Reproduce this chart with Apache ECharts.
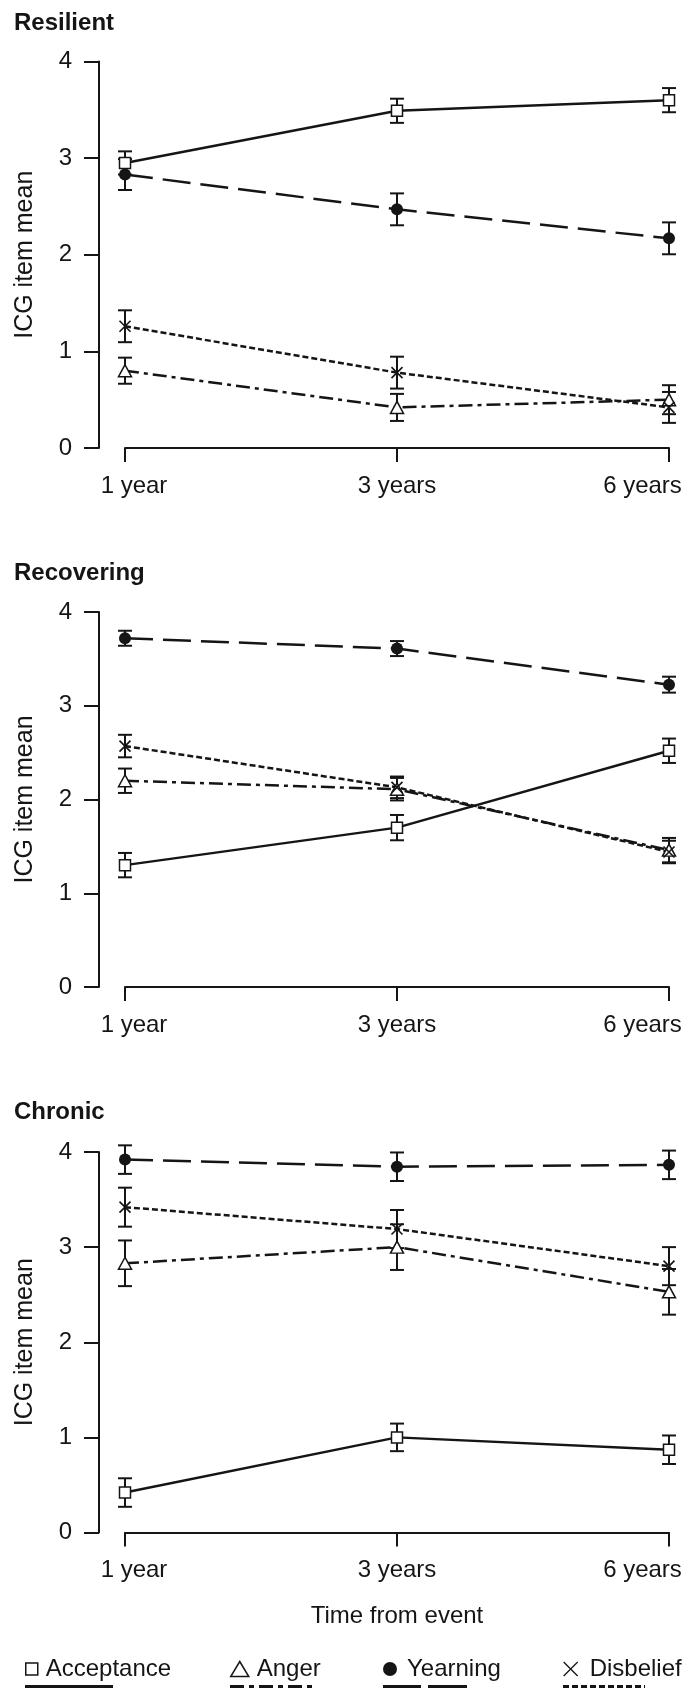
<!DOCTYPE html>
<html><head><meta charset="utf-8">
<script src="https://cdn.jsdelivr.net/npm/echarts@6/dist/echarts.min.js"></script>
<style>html,body{margin:0;padding:0;background:#fff}#chart{width:689px;height:1688px}</style>
</head><body><div id="chart"></div>
<script>
// ---------- data ----------
const categories = ['1 year', '3 years', '6 years'];
const panelTitles = ['Resilient', 'Recovering', 'Chronic'];
const itemNames = ['Acceptance', 'Anger', 'Yearning', 'Disbelief'];
const yAxisName = 'ICG item mean';
const xAxisName = 'Time from event';

// Resilient
const resilientAcceptance = [2.95, 3.49, 3.60];
const resilientAcceptanceSE = [0.12, 0.125, 0.125];
const resilientAnger = [0.80, 0.42, 0.50];
const resilientAngerSE = [0.135, 0.14, 0.15];
const resilientYearning = [2.83, 2.47, 2.17];
const resilientYearningSE = [0.16, 0.165, 0.165];
const resilientDisbelief = [1.26, 0.78, 0.42];
const resilientDisbeliefSE = [0.165, 0.165, 0.16];

// Recovering
const recoveringAcceptance = [1.30, 1.70, 2.52];
const recoveringAcceptanceSE = [0.13, 0.135, 0.13];
const recoveringAnger = [2.20, 2.11, 1.46];
const recoveringAngerSE = [0.13, 0.12, 0.13];
const recoveringYearning = [3.72, 3.61, 3.225];
const recoveringYearningSE = [0.08, 0.08, 0.085];
const recoveringDisbelief = [2.57, 2.13, 1.44];
const recoveringDisbeliefSE = [0.12, 0.115, 0.12];

// Chronic
const chronicAcceptance = [0.42, 1.00, 0.87];
const chronicAcceptanceSE = [0.15, 0.145, 0.15];
const chronicAnger = [2.83, 3.00, 2.53];
const chronicAngerSE = [0.24, 0.24, 0.24];
const chronicYearning = [3.92, 3.845, 3.865];
const chronicYearningSE = [0.15, 0.15, 0.15];
const chronicDisbelief = [3.42, 3.19, 2.80];
const chronicDisbeliefSE = [0.205, 0.2, 0.2];

const panelData = [
  [[resilientAcceptance, resilientAcceptanceSE], [resilientAnger, resilientAngerSE], [resilientYearning, resilientYearningSE], [resilientDisbelief, resilientDisbeliefSE]],
  [[recoveringAcceptance, recoveringAcceptanceSE], [recoveringAnger, recoveringAngerSE], [recoveringYearning, recoveringYearningSE], [recoveringDisbelief, recoveringDisbeliefSE]],
  [[chronicAcceptance, chronicAcceptanceSE], [chronicAnger, chronicAngerSE], [chronicYearning, chronicYearningSE], [chronicDisbelief, chronicDisbeliefSE]]
];

// ---------- styles / layout ----------
const INK = '#151515';
const FONT = "'Liberation Sans', Arial, Helvetica, sans-serif";
const gridBoxes = [
  {top: 61.5, bottom: 1240},
  {top: 612, bottom: 701},
  {top: 1152, bottom: 155.5}
];
const titleTops = [6, 556, 1095];
const X_PATH = 'path://M0,0L10,10M10,0L0,10';
const itemStyles = {
  Acceptance: {symbol: 'rect', size: 11, line: 'solid', item: {color: '#fff', borderColor: INK, borderWidth: 1.5}},
  Anger: {symbol: 'triangle', size: [13, 12], line: [14, 5, 4, 5], item: {color: '#fff', borderColor: INK, borderWidth: 1.5}},
  Yearning: {symbol: 'circle', size: 12, line: [28, 10], item: {color: INK, borderColor: INK, borderWidth: 0}},
  Disbelief: {symbol: X_PATH, size: 11, line: [6, 3], item: {color: 'transparent', borderColor: INK, borderWidth: 1.6}}
};
const legendLayout = {
  Acceptance: {left: 25, icon: 'rect', w: 12, h: 12, pad: 3, under: 'path://M0,0H88V3H0Z', uw: 88},
  Anger: {left: 230, icon: 'triangle', w: 18, h: 15, pad: 3,
    under: 'path://M0,0h14v3h-14z M19,0h5v3h-5z M29,0h14v3h-14z M48,0h5v3h-5z M58,0h14v3h-14z M77,0h5v3h-5z', uw: 82},
  Yearning: {left: 383, icon: 'circle', w: 14, h: 14, pad: 5, under: 'path://M0,0h38v3h-38z M45,0h39v3h-39z', uw: 84},
  Disbelief: {left: 563, icon: 'path://M0,0L10,10M10,0L0,10', w: 14, h: 14, pad: 7,
    under: 'path://M0,0h6v3h-6z M9,0h6v3h-6z M18,0h6v3h-6z M27,0h6v3h-6z M36,0h6v3h-6z M45,0h6v3h-6z M54,0h6v3h-6z M63,0h6v3h-6z M72,0h6v3h-6z M81,0h1v3h-1z', uw: 82}
};
const catLabelPad = {'1 year': [0, 0, 0, 18], '6 years': [0, 53, 0, 0]};

// ---------- option ----------
const grid = gridBoxes.map(g => ({left: 125, right: 20, top: g.top, bottom: g.bottom, containLabel: false}));

const xAxis = gridBoxes.map((g, i) => ({
  type: 'category', gridIndex: i, boundaryGap: false,
  data: categories.map(c => catLabelPad[c] ? {value: c, textStyle: {padding: catLabelPad[c]}} : c),
  axisLine: {show: true, lineStyle: {color: INK, width: 2}},
  axisTick: {show: true, length: 14, alignWithLabel: true, lineStyle: {color: INK, width: 2}},
  axisLabel: {fontSize: 24, color: INK, fontFamily: FONT, margin: 26, interval: 0},
  splitLine: {show: false},
  name: i === 2 ? xAxisName : '', nameLocation: 'middle', nameGap: 72,
  nameTextStyle: {fontSize: 24, color: INK, fontFamily: FONT}
}));

const yAxis = gridBoxes.map((g, i) => ({
  type: 'value', gridIndex: i, min: 0, max: 4, interval: 1, offset: 26,
  axisLine: {show: true, lineStyle: {color: INK, width: 2}},
  axisTick: {show: true, length: 15, lineStyle: {color: INK, width: 2}},
  axisLabel: {fontSize: 24, color: INK, fontFamily: FONT, margin: 27},
  splitLine: {show: false},
  name: yAxisName, nameLocation: 'middle', nameGap: 61,
  nameTextStyle: {fontSize: 25, color: INK, fontFamily: FONT}
}));

const title = panelTitles.map((t, i) => ({
  text: t, left: 9, top: titleTops[i],
  textStyle: {fontSize: 24, fontWeight: 'bold', color: INK, fontFamily: FONT}
}));

function errorBarRender(params, api) {
  const x = api.value(0);
  const lo = api.coord([x, api.value(1)]);
  const hi = api.coord([x, api.value(2)]);
  const w = 7;
  const st = {stroke: INK, lineWidth: 2};
  return {type: 'group', children: [
    {type: 'line', shape: {x1: lo[0], y1: lo[1], x2: hi[0], y2: hi[1]}, style: st},
    {type: 'line', shape: {x1: lo[0] - w, y1: lo[1], x2: lo[0] + w, y2: lo[1]}, style: st},
    {type: 'line', shape: {x1: hi[0] - w, y1: hi[1], x2: hi[0] + w, y2: hi[1]}, style: st}
  ]};
}

const series = [];
panelData.forEach((panel, p) => {
  panel.forEach(([means, se], k) => {
    const name = itemNames[k];
    series.push({
      type: 'custom', name: name + ' SE', xAxisIndex: p, yAxisIndex: p, z: 2,
      renderItem: errorBarRender, encode: {x: 0, y: [1, 2]},
      data: means.map((m, i) => [i, m - se[i], m + se[i]]), silent: true
    });
  });
  panel.forEach(([means], k) => {
    const name = itemNames[k];
    const s = itemStyles[name];
    series.push({
      type: 'line', name: name, xAxisIndex: p, yAxisIndex: p, z: 3,
      data: means, symbol: s.symbol, symbolSize: s.size, showSymbol: true,
      lineStyle: {color: INK, width: 2.5, type: s.line},
      itemStyle: s.item, color: INK, emphasis: {disabled: true}, silent: true
    });
  });
});

const legend = [];
itemNames.forEach(name => {
  const L = legendLayout[name];
  legend.push({
    left: L.left, top: 1657, selectedMode: false, itemWidth: L.w, itemHeight: L.h, padding: 0,
    data: [{name: name, icon: L.icon, itemStyle: name === 'Disbelief' ? {color: 'transparent', borderColor: INK, borderWidth: 1.3} : (name === 'Yearning' ? {color: INK, borderWidth: 0} : {color: '#fff', borderColor: INK, borderWidth: 1.5})}],
    textStyle: {fontSize: 24, color: INK, fontFamily: FONT, padding: [0, 0, 0, L.pad]}
  });
  legend.push({
    left: L.left, top: 1685, selectedMode: false, itemWidth: L.uw, itemHeight: 3, padding: 0,
    data: [{name: name, icon: L.under, itemStyle: {color: INK, borderWidth: 0}}],
    formatter: () => '', textStyle: {fontSize: 1}
  });
});

const chart = echarts.init(document.getElementById('chart'), null, {renderer: 'canvas'});
chart.setOption({
  animation: false, backgroundColor: '#fff',
  textStyle: {fontFamily: FONT},
  title, grid, xAxis, yAxis, legend, series
});
</script></body></html>
